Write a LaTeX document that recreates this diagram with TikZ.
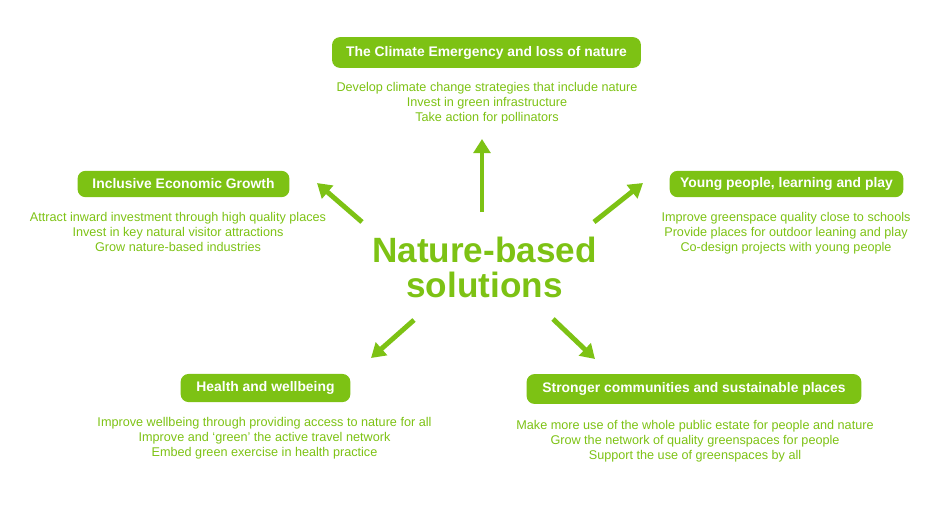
\documentclass[tikz,border=0pt]{standalone}
\usepackage{fontspec}
\setmainfont{Liberation Sans}
\usetikzlibrary{arrows.meta,positioning}
\definecolor{NBSGreen}{HTML}{7DC214}

\begin{document}
\begin{tikzpicture}[x=0.02cm, y=-0.02cm,
  theme/.style={fill=NBSGreen, rounded corners=4.5pt, text=white,
                font=\fontsize{7.9}{9}\selectfont\bfseries, inner xsep=0pt,
                minimum height=15pt},
  actions/.style={align=center, text=NBSGreen,
                  font=\fontsize{7.2}{8.5}\selectfont},
  push/.style={-{Triangle[length=8pt, width=9.5pt]}, line width=2.8pt, NBSGreen},
  >=Stealth
]
  \useasboundingbox (0,0) rectangle (946,522);

  % hub
  \node[text=NBSGreen, font=\fontsize{20}{20}\selectfont\bfseries, align=center]
    (hub) at (484.5, 267) {Nature-based\\[0pt]solutions};

  % climate
  \node[theme, minimum height=17.5pt] (climate) at (486.5, 52.5)
    {\hspace*{8pt}The Climate Emergency and loss of nature\hspace*{8pt}};
  \node[actions, anchor=north] (climate-do) at (487, 76)
    {Develop climate change strategies that include nature\\
     Invest in green infrastructure\\
     Take action for pollinators};

  % economy
  \node[theme] (economy) at (183.5, 184) {\hspace*{8.5pt}Inclusive Economic Growth\hspace*{8.5pt}};
  \node[actions, anchor=north] (economy-do) at (178, 206)
    {Attract inward investment through high quality places\\
     Invest in key natural visitor attractions\\
     Grow nature-based industries};

  % young people
  \node[theme] (young) at (786.5, 184) {\hspace*{6pt}Young people, learning and play\hspace*{6pt}};
  \node[actions, anchor=north] (young-do) at (786, 206)
    {Improve greenspace quality close to schools\\
     Provide places for outdoor leaning and play\\
     Co-design projects with young people};

  % health
  \node[theme, minimum height=16pt] (health) at (265.5, 388) {\hspace*{9pt}Health and wellbeing\hspace*{9pt}};
  \node[actions, anchor=north] (health-do) at (264.5, 411)
    {Improve wellbeing through providing access to nature for all\\
     Improve and `green' the active travel network\\
     Embed green exercise in health practice};

  % communities
  \node[theme, minimum height=17pt] (community) at (694, 389) {\hspace*{9pt}Stronger communities and sustainable places\hspace*{9pt}};
  \node[actions, anchor=north] (community-do) at (695, 414)
    {Make more use of the whole public estate for people and nature\\
     Grow the network of quality greenspaces for people\\
     Support the use of greenspaces by all};

  % arrows out of the hub
  \coordinate (up-from) at (482, 212);   \coordinate (up-to) at (482, 139);
  \coordinate (ul-from) at (362, 222);   \coordinate (ul-to) at (317, 183);
  \coordinate (ur-from) at (594, 222);   \coordinate (ur-to) at (643, 183);
  \coordinate (dl-from) at (414, 320);   \coordinate (dl-to) at (371, 358);
  \coordinate (dr-from) at (553, 319);   \coordinate (dr-to) at (595, 359);

  \draw[push] (up-from) -- (up-to);
  \draw[push] (ul-from) -- (ul-to);
  \draw[push] (ur-from) -- (ur-to);
  \draw[push] (dl-from) -- (dl-to);
  \draw[push] (dr-from) -- (dr-to);
\end{tikzpicture}
\end{document}
